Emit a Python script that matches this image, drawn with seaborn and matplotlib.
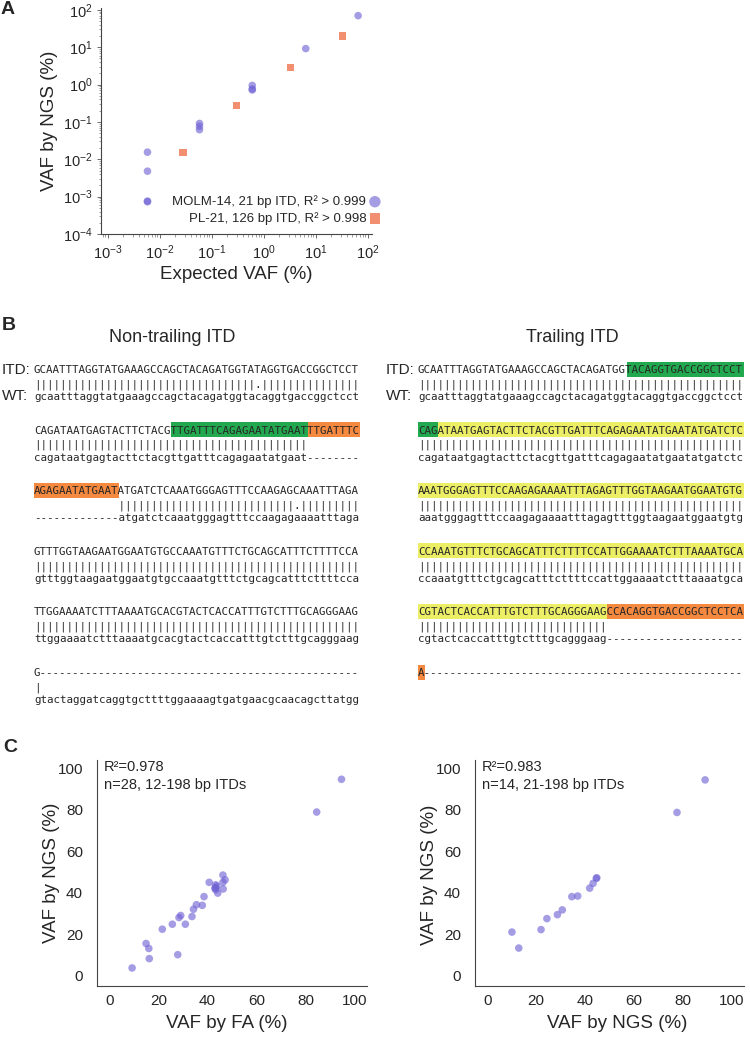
import numpy as np
import pandas as pd
import matplotlib
matplotlib.use("Agg")
import matplotlib.pyplot as plt
from matplotlib.patches import Rectangle
from matplotlib.ticker import LogLocator, NullFormatter
import seaborn as sns

# ── Panel A: dilution series (expected vs NGS VAF, %) ──────────────────────────
molm_expected = [65, 6.4, 0.6, 0.6, 0.6, 0.058, 0.058, 0.058, 0.0058, 0.0058, 0.0058, 0.0058]
molm_ngs = [70, 9.2, 0.95, 0.76, 0.72, 0.091, 0.076, 0.062, 0.0155, 0.0048, 0.00076, 0.00073]
pl21_expected = [0.028, 0.3, 3.2, 33]
pl21_ngs = [0.015, 0.27, 2.8, 20]
molm_label = "MOLM-14, 21 bp ITD, R² > 0.999"
pl21_label = "PL-21, 126 bp ITD, R² > 0.998"

# ── Panel B: alignments, 50 nt per block ───────────────────────────────────────
nontrail_itd = [
    "GCAATTTAGGTATGAAAGCCAGCTACAGATGGTATAGGTGACCGGCTCCT",
    "CAGATAATGAGTACTTCTACGTTGATTTCAGAGAATATGAATTTGATTTC",
    "AGAGAATATGAATATGATCTCAAATGGGAGTTTCCAAGAGCAAATTTAGA",
    "GTTTGGTAAGAATGGAATGTGCCAAATGTTTCTGCAGCATTTCTTTTCCA",
    "TTGGAAAATCTTTAAAATGCACGTACTCACCATTTGTCTTTGCAGGGAAG",
    "G-------------------------------------------------",
]
nontrail_wt = [
    "gcaatttaggtatgaaagccagctacagatggtacaggtgaccggctcct",
    "cagataatgagtacttctacgttgatttcagagaatatgaat--------",
    "-------------atgatctcaaatgggagtttccaagagaaaatttaga",
    "gtttggtaagaatggaatgtgccaaatgtttctgcagcatttcttttcca",
    "ttggaaaatctttaaaatgcacgtactcaccatttgtctttgcagggaag",
    "gtactaggatcaggtgcttttggaaaagtgatgaacgcaacagcttatgg",
]
trail_itd = [
    "GCAATTTAGGTATGAAAGCCAGCTACAGATGGTACAGGTGACCGGCTCCT",
    "CAGATAATGAGTACTTCTACGTTGATTTCAGAGAATATGAATATGATCTC",
    "AAATGGGAGTTTCCAAGAGAAAATTTAGAGTTTGGTAAGAATGGAATGTG",
    "CCAAATGTTTCTGCAGCATTTCTTTTCCATTGGAAAATCTTTAAAATGCA",
    "CGTACTCACCATTTGTCTTTGCAGGGAAGCCACAGGTGACCGGCTCCTCA",
    "A-------------------------------------------------",
]
trail_wt = [
    "gcaatttaggtatgaaagccagctacagatggtacaggtgaccggctcct",
    "cagataatgagtacttctacgttgatttcagagaatatgaatatgatctc",
    "aaatgggagtttccaagagaaaatttagagtttggtaagaatggaatgtg",
    "ccaaatgtttctgcagcatttcttttccattggaaaatctttaaaatgca",
    "cgtactcaccatttgtctttgcagggaag---------------------",
    "",
]

GREEN, ORANGE, YELLOW = "#22a94f", "#f4893f", "#ecee66"
# (block, start, stop, colour)
nontrail_marks = [(1, 21, 42, GREEN), (1, 42, 50, ORANGE), (2, 0, 13, ORANGE)]
trail_marks = [(0, 32, 50, GREEN), (1, 0, 3, GREEN), (1, 3, 50, YELLOW),
               (2, 0, 50, YELLOW), (3, 0, 50, YELLOW), (4, 0, 29, YELLOW),
               (4, 29, 50, ORANGE), (5, 0, 1, ORANGE)]

# ── Panel C: FA vs NGS and NGS vs NGS (VAF, %) ─────────────────────────────────
fa_vaf = [94.6, 84.5, 46.3, 47.2, 46.3, 46.4, 40.7, 43.3, 43.8, 43.3, 43.4, 43.0, 44.2,
          38.6, 37.9, 35.5, 34.3, 33.7, 29.1, 28.4, 31.0, 25.7, 21.6, 15.0, 16.1,
          16.3, 27.9, 9.3]
ngs_vs_fa = [94.7, 78.9, 48.5, 46.2, 45.0, 41.8, 45.0, 43.8, 43.2, 42.4, 41.4, 42.1, 39.8,
             38.1, 33.9, 34.2, 32.0, 28.5, 29.0, 28.0, 24.8, 24.8, 22.4, 15.5, 13.1,
             8.2, 10.1, 3.7]
ngs_run1 = [89.1, 77.6, 44.6, 44.8, 43.3, 41.9, 37.0, 34.6, 30.7, 28.7, 24.4, 22.0, 10.1, 12.9]
ngs_run2 = [94.4, 78.7, 46.9, 47.2, 44.5, 42.2, 38.4, 38.1, 31.7, 29.4, 27.5, 22.2, 21.0, 13.3]

PURPLE = "#6f62d4"
ORANGE_PT = "#ef7b57"

# ── Style ──────────────────────────────────────────────────────────────────────
sns.set_theme(style="white")
plt.rcParams["font.family"] = ["Liberation Sans", "DejaVu Sans"]
plt.rcParams["axes.edgecolor"] = "#444444"
plt.rcParams["axes.linewidth"] = 0.8

W, H = 750, 1040
fig = plt.figure(figsize=(W / 100, H / 100), dpi=100)


def px_axes(l, t, r, b):
    ax = fig.add_axes([l / W, 1 - b / H, (r - l) / W, (b - t) / H])
    ax.patch.set_alpha(0)
    return ax


def place_labels(ax, xpos, ypos):
    # centre the axis labels on the given axes-fraction positions
    ax.xaxis.set_label_coords(*xpos)
    ax.yaxis.set_label_coords(*ypos)
    ax.xaxis.label.set_va("center")
    ax.yaxis.label.set_va("center")
    ax.yaxis.label.set_ha("center")


canvas = fig.add_axes([0, 0, 1, 1])
canvas.set_xlim(0, W)
canvas.set_ylim(H, 0)
canvas.axis("off")

for letter, (x, y) in zip("ABC", [(1, 9), (2, 325), (3, 747)]):
    canvas.text(x, y, letter, fontsize=14, fontweight="bold", ha="left", va="center")

# ── Panel A ────────────────────────────────────────────────────────────────────
ax_a = px_axes(101, 8, 372, 234)
sns.scatterplot(x=molm_expected, y=molm_ngs, ax=ax_a, color=PURPLE, alpha=0.62,
                s=30, edgecolor="none", marker="o", label=molm_label)
sns.scatterplot(x=pl21_expected, y=pl21_ngs, ax=ax_a, color=ORANGE_PT, alpha=0.85,
                s=26, edgecolor="none", marker="s", label=pl21_label)
ax_a.set_xscale("log")
ax_a.set_yscale("log")
ax_a.set_xlim(10 ** -3.13, 10 ** 2.08)
ax_a.set_ylim(1e-4, 10 ** 2.05)
ax_a.xaxis.set_major_locator(LogLocator(base=10, numticks=10))
ax_a.yaxis.set_major_locator(LogLocator(base=10, numticks=10))
ax_a.xaxis.set_minor_locator(LogLocator(base=10, subs=np.arange(2, 10), numticks=10))
ax_a.yaxis.set_minor_locator(LogLocator(base=10, subs=np.arange(2, 10), numticks=10))
ax_a.xaxis.set_minor_formatter(NullFormatter())
ax_a.yaxis.set_minor_formatter(NullFormatter())
ax_a.tick_params(which="major", length=3, width=0.6, color="#555555", labelsize=10.5, pad=3)
ax_a.tick_params(which="minor", length=1.8, width=0.5, color="#777777")
ax_a.tick_params(axis="x", which="both", bottom=True, pad=4)
ax_a.tick_params(axis="y", which="both", left=True)
sns.despine(ax=ax_a)
ax_a.set_xlabel("Expected VAF (%)", fontsize=13.5)
ax_a.set_ylabel("VAF by NGS (%)", fontsize=13.5)
place_labels(ax_a, (0.498, -0.178), (-0.19, 0.5))
ax_a.legend(loc="lower right", bbox_to_anchor=(1.035, 0.04), markerfirst=False,
            frameon=False, fontsize=9.5, handletextpad=0.15, labelspacing=0.3,
            markerscale=1.5, borderpad=0, borderaxespad=0, handlelength=1.0)

# ── Panel B ────────────────────────────────────────────────────────────────────
MONO = 7.8
PITCH = 0.60205 * MONO * 100 / 72
ROW0, STEP = 369, 60.6


def match_line(itd, wt):
    out = []
    for a, b in zip(itd, wt):
        if a == "-" or b == "-":
            out.append(" ")
        elif a.upper() == b.upper():
            out.append("|")
        else:
            out.append(".")
    return "".join(out).rstrip()


def draw_alignment(x0, title_x, title, itd_rows, wt_rows, marks):
    canvas.text(title_x, 338, title, fontsize=13, ha="center", va="center")
    for blk, start, stop, col in marks:
        y = ROW0 + blk * STEP
        canvas.add_patch(Rectangle((x0 + start * PITCH, y - 7.5), (stop - start) * PITCH,
                                   15, facecolor=col, edgecolor="none", zorder=1))
    for i, (itd, wt) in enumerate(zip(itd_rows, wt_rows)):
        y = ROW0 + i * STEP
        canvas.text(x0, y + 4, itd, family="DejaVu Sans Mono", fontsize=MONO,
                    ha="left", va="baseline", zorder=2)
        bars = match_line(itd, wt)
        if bars:
            canvas.text(x0, y + 15.5, bars, family="DejaVu Sans Mono", fontsize=MONO,
                        ha="left", va="center", color="#222222", zorder=2)
        if wt:
            canvas.text(x0, y + 31, wt, family="DejaVu Sans Mono", fontsize=MONO,
                        ha="left", va="baseline", zorder=2)
    canvas.text(x0 - 4, ROW0 + 1, "ITD:", fontsize=11, ha="right", va="center")
    canvas.text(x0 - 6, ROW0 + 27, "WT:", fontsize=11, ha="right", va="center")


draw_alignment(34, 172, "Non-trailing ITD", nontrail_itd, nontrail_wt, nontrail_marks)
draw_alignment(418, 572, "Trailing ITD", trail_itd, trail_wt, trail_marks)

# ── Panel C ────────────────────────────────────────────────────────────────────
def vaf_panel(box, x, y, xlabel, note, xlab_pos, ylab_pos):
    ax = px_axes(*box)
    sns.scatterplot(x=x, y=y, ax=ax, color=PURPLE, alpha=0.62, s=30, edgecolor="none")
    ax.set_xlim(-5, 105)
    ax.set_ylim(-5, 104)
    ax.set_xticks([0, 20, 40, 60, 80, 100])
    ax.set_yticks([0, 20, 40, 60, 80, 100])
    ax.tick_params(axis="y", length=0, labelsize=11, pad=10)
    ax.tick_params(axis="x", length=0, labelsize=11, pad=6)
    sns.despine(ax=ax)
    ax.set_xlabel(xlabel, fontsize=13.5)
    ax.set_ylabel("VAF by NGS (%)", fontsize=13.5)
    place_labels(ax, xlab_pos, ylab_pos)
    ax.text(0.026, 0.998, note, transform=ax.transAxes, fontsize=10.5,
            ha="left", va="top", linespacing=1.3)
    return ax


vaf_panel((97, 760, 367, 986), fa_vaf, ngs_vs_fa, "VAF by FA (%)",
          "R²=0.978\nn=28, 12-198 bp ITDs", (0.48, -0.168), (-0.17, 0.5))
vaf_panel((475, 760, 744, 986), ngs_run1, ngs_run2, "VAF by NGS (%)",
          "R²=0.983\nn=14, 21-198 bp ITDs", (0.528, -0.168), (-0.171, 0.49))

fig.savefig("out.png", dpi=100)
